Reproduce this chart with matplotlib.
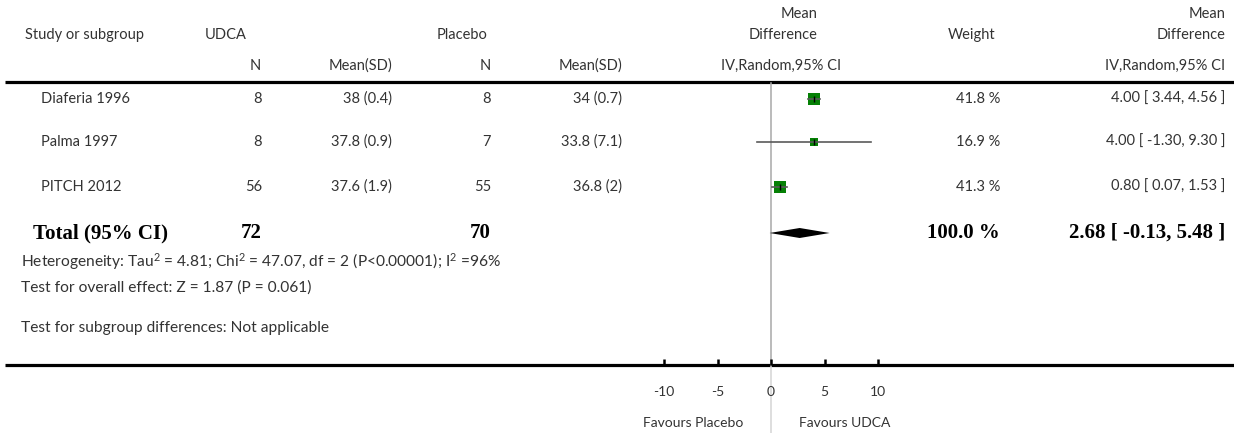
import matplotlib
matplotlib.use("Agg")
import matplotlib.pyplot as plt
import numpy as np

plt.rcParams["mathtext.fontset"] = "custom"
plt.rcParams["mathtext.rm"] = "Lato"
plt.rcParams["mathtext.it"] = "Lato"
plt.rcParams["mathtext.bf"] = "Lato:bold"

# ---------------- data ----------------
studies = ["Diaferia 1996", "Palma 1997", "PITCH 2012"]
udca_n = [8, 8, 56]
udca_msd = ["38 (0.4)", "37.8 (0.9)", "37.6 (1.9)"]
plac_n = [8, 7, 55]
plac_msd = ["34 (0.7)", "33.8 (7.1)", "36.8 (2)"]
md = [4.00, 4.00, 0.80]
ci_lo = [3.44, -1.30, 0.07]
ci_hi = [4.56, 9.30, 1.53]
weights = [41.8, 16.9, 41.3]
total_udca = 72
total_plac = 70
total_md = 2.68
total_lo = -0.13
total_hi = 5.48
axis_ticks = [-10, -5, 0, 5, 10]
axis_ticklabels = ["-10", "-5", "0", "5", "10"]
heterogeneity = r"Heterogeneity: Tau$^{\mathrm{2}}$ = 4.81; Chi$^{\mathrm{2}}$ = 47.07, df = 2 (P<0.00001); I$^{\mathrm{2}}$ =96%"
overall = "Test for overall effect: Z = 1.87 (P = 0.061)"
subgroup = "Test for subgroup differences: Not applicable"

# ---------------- layout ----------------
W, H = 1234, 433
fig = plt.figure(figsize=(W / 100, H / 100), dpi=100)
ax_t = fig.add_axes([0, 0, 1, 1])
ax_t.set_xlim(0, W)
ax_t.set_ylim(H, 0)
ax_t.axis("off")

zero_px = 771.0
px_per_unit = 10.7
ax = fig.add_axes([0, 0, 1, 1])
ax.set_xlim(-zero_px / px_per_unit, (W - zero_px) / px_per_unit)
ax.set_ylim(H, 0)
ax.axis("off")

FONT = "Lato"
SERIF = "Liberation Serif"
TXT = "#333333"
fs = 10.5

def t(x, y, s, ha="left", size=fs, **kw):
    kw.setdefault("family", FONT)
    kw.setdefault("color", TXT)
    ax_t.text(x, y, s, ha=ha, va="center", fontsize=size, **kw)

# headers
t(25, 35, "Study or subgroup")
t(205, 35, "UDCA")
t(437, 35, "Placebo")
t(817, 14, "Mean", ha="right")
t(817, 35, "Difference", ha="right")
t(972, 35, "Weight", ha="center")
t(1225, 14, "Mean", ha="right")
t(1225, 35, "Difference", ha="right")
t(261, 66, "N", ha="right")
t(392, 66, "Mean(SD)", ha="right")
t(491, 66, "N", ha="right")
t(622, 66, "Mean(SD)", ha="right")
t(781, 66, "IV,Random,95% CI", ha="center")
t(1225, 66, "IV,Random,95% CI", ha="right")

row_y = [99, 142, 187]
for i, y in enumerate(row_y):
    t(41, y, studies[i])
    t(262, y, str(udca_n[i]), ha="right")
    t(392, y, udca_msd[i], ha="right")
    t(491, y, str(plac_n[i]), ha="right")
    t(622, y, plac_msd[i], ha="right")
    t(1000, y, f"{weights[i]:.1f} %", ha="right")
    t(1225, y, f"{md[i]:.2f} [ {ci_lo[i]:.2f}, {ci_hi[i]:.2f} ]", ha="right")

ty = 233
bold = dict(family=SERIF, weight="bold", color="black")
bs = 15
t(33, ty, "Total (95% CI)", size=bs, **bold)
t(262, ty, str(total_udca), ha="right", size=bs, **bold)
t(491, ty, str(total_plac), ha="right", size=bs, **bold)
t(1000, ty, "100.0 %", ha="right", size=bs, **bold)
t(1225, ty, f"{total_md:.2f} [ {total_lo:.2f}, {total_hi:.2f} ]", ha="right", size=bs, **bold)

t(21, 262, heterogeneity, size=11.2)
t(21, 288, overall, size=11.2)
t(21, 328, subgroup, size=11.2)

# rule lines
ax_t.plot([5, W], [82, 82], color="black", lw=2.3, solid_capstyle="butt")
ax_t.plot([5, W], [365, 365], color="black", lw=2.3, solid_capstyle="butt")

# zero line
ax.plot([0, 0], [83, 364], color="#a8a8a8", lw=1.1, zorder=1)
ax.plot([0, 0], [366, H], color="#d4d4d4", lw=1.1, zorder=1)

# ticks
for v, lab in zip(axis_ticks, axis_ticklabels):
    ax.plot([v, v], [358.5, 365], color="black", lw=1.8, solid_capstyle="butt")
    ax.text(v, 392, lab, ha="center", va="center", fontsize=10, family=FONT, color="#333333")
ax.text(-2.6, 423, "Favours Placebo", ha="right", va="center", fontsize=10, family=FONT, color="#333333")
ax.text(2.6, 423, "Favours UDCA", ha="left", va="center", fontsize=10, family=FONT, color="#333333")

# study squares and CIs
for i, y in enumerate(row_y):
    side_px = 2.0 * np.sqrt(weights[i])
    ax.plot([md[i]], [y], marker="s", markersize=side_px * 0.72, color="#058005",
            markeredgewidth=0, zorder=3)
    ax.plot([ci_lo[i], ci_hi[i]], [y, y], color="#5a5a5a", lw=1.2, zorder=4)
    ax.plot([md[i]], [y], marker="|", markersize=4.5, color="black", markeredgewidth=1.0, zorder=5)

# total diamond
hh = 5.0
ax.fill([total_lo, total_md, total_hi, total_md], [ty, ty - hh, ty, ty + hh],
        color="black", lw=0, zorder=3)

fig.savefig("out.png", dpi=100)
